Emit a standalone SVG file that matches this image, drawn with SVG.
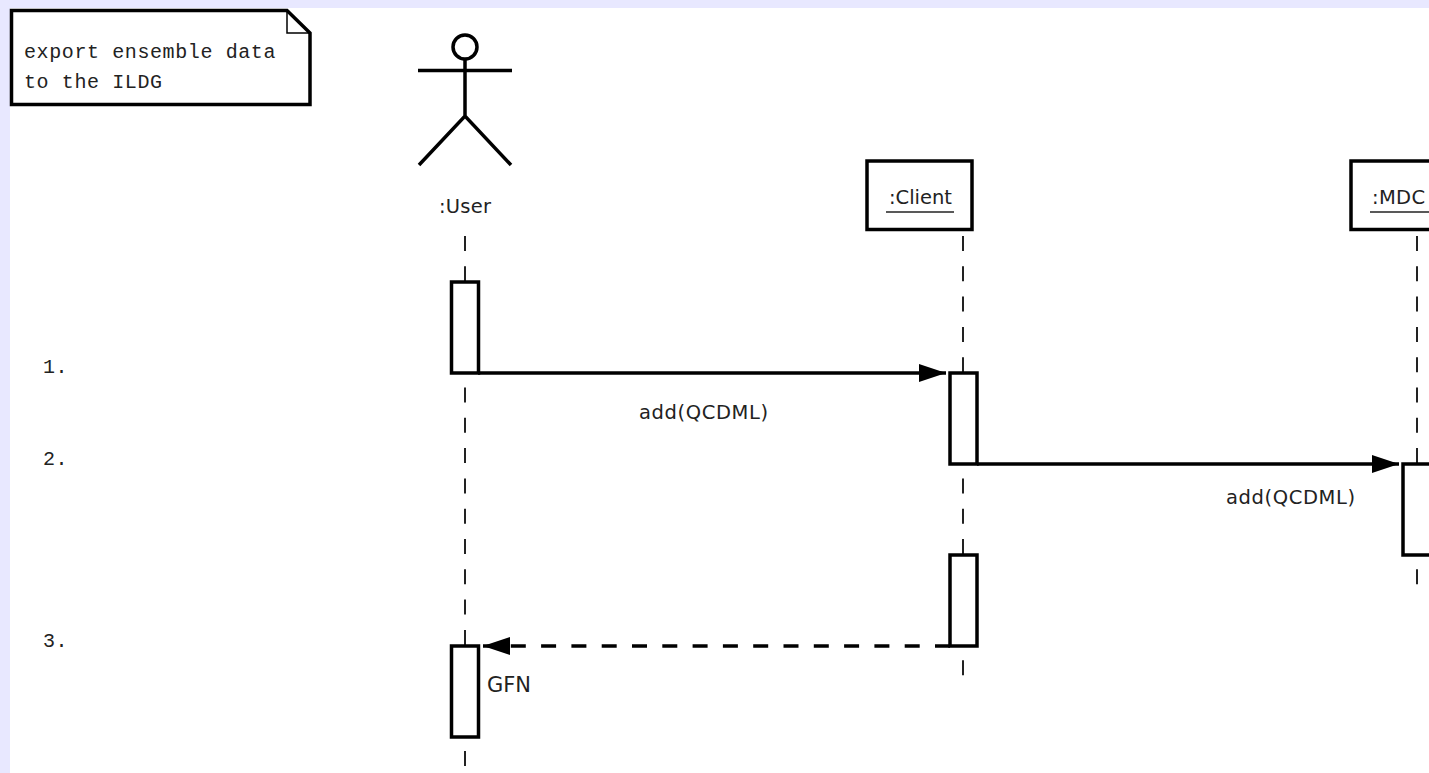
<svg xmlns="http://www.w3.org/2000/svg" width="1429" height="773" viewBox="0 0 1429 773">
<style>
.s{fill:none;stroke:#000;stroke-width:3.5}
.b{fill:#fff;stroke:#000;stroke-width:3.5}
.fold{fill:none;stroke:#000;stroke-width:1.5}
.life{fill:none;stroke:#222;stroke-width:2;stroke-dasharray:15 15.3}
.msg{fill:none;stroke:#000;stroke-width:3.5}
.dash{stroke-dasharray:15 15.3}
.t{font-family:"DejaVu Sans","Liberation Sans",sans-serif;font-size:19.5px;fill:#222}
.m{font-family:"Liberation Mono","DejaVu Sans Mono",monospace;font-size:20px;letter-spacing:0.6px;fill:#222}
.u{stroke:#222;stroke-width:1.5}
</style>
<defs>
<marker id="ah" markerUnits="userSpaceOnUse" markerWidth="28" markerHeight="18" refX="27" refY="9" orient="auto-start-reverse"><path d="M0 0L27 9L0 18Z" fill="#000"/></marker>
</defs>
<rect width="1429" height="773" fill="#e8e8ff"/>
<rect x="10" y="8" width="1419" height="765" fill="#fff"/>
<g id="lifelines">
<path class="life" d="M465 236V768"/>
<path class="life" d="M963 236V680"/>
<path class="life" d="M1417 236V590"/>
</g>
<g id="note">
<path class="b" d="M11.500 10.500H287L310 33V104.500H11.500Z"/>
<path class="fold" d="M287 10.500V33H310"/>
<text class="m" x="24" y="58">export ensemble data</text>
<text class="m" x="24" y="88">to the ILDG</text>
</g>
<g id="user">
<circle class="s" cx="465" cy="47" r="12"/>
<path class="s" d="M465 59V116M418 70.500H512M419 165L465 116L511 165"/>
<text class="t" x="439" y="212.500" textLength="52">:User</text>
</g>
<g id="client">
<rect class="b" x="867" y="161" width="105" height="68.500"/>
<text class="t" x="889" y="204" textLength="63">:Client</text>
<path class="u" d="M886 212H954"/>
</g>
<g id="mdc">
<rect class="b" x="1351" y="161" width="90" height="68.500"/>
<text class="t" x="1372" y="204" textLength="53">:MDC</text>
<path class="u" d="M1370 212H1429"/>
</g>
<g id="activations">
<rect id="act-user-1" class="b" x="451.500" y="282" width="27" height="91"/>
<rect id="act-client-1" class="b" x="950" y="373" width="27" height="91"/>
<rect id="act-mdc-1" class="b" x="1403" y="464" width="30" height="91"/>
<rect id="act-client-2" class="b" x="950" y="555" width="27" height="91"/>
<rect id="act-user-2" class="b" x="451.500" y="646" width="27" height="91"/>
</g>
<g id="connectors">
<path class="msg" marker-end="url(#ah)" d="M478 373H946"/>
<path class="msg" marker-end="url(#ah)" d="M977 464H1399"/>
<path class="msg dash" marker-end="url(#ah)" d="M950 646H483"/>
</g>
<g id="labels">
<text class="t" x="639" y="418.500" textLength="129">add(QCDML)</text>
<text class="t" x="1226" y="504" textLength="129">add(QCDML)</text>
<text class="t" x="487" y="691.500" style="font-size:21px">GFN</text>
<text class="m" x="43" y="372.500">1.</text>
<text class="m" x="43" y="464.500">2.</text>
<text class="m" x="43" y="646.500">3.</text>
</g>
</svg>
